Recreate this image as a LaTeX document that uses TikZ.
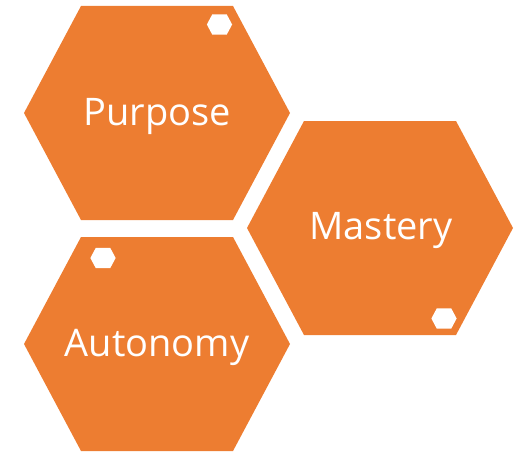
\documentclass[tikz,border=0pt]{standalone}
\usepackage{fontspec}
\setmainfont{Open Sans}
\definecolor{hexorange}{HTML}{ED7D31}
\tikzset{
  hexlabel/.style={text=white, font=\fontsize{38}{40}\selectfont, inner sep=0pt, anchor=base},
}
\begin{document}
\begin{tikzpicture}[x=1pt,y=-1pt] % three hexagons
		\newcommand{\hexW}{133}	% half width, to the side corners
		\newcommand{\hexE}{76}	% half length of top and bottom edge
		\newcommand{\hexH}{107}	% half height
		
		\useasboundingbox (0,0) rectangle (524,452);
		
		% big hexagons
		\fill[hexorange, shift={(157,113)}] (-\hexW,0) -- (-\hexE,-\hexH) -- (\hexE,-\hexH) -- (\hexW,0) -- (\hexE,\hexH) -- (-\hexE,\hexH) -- cycle;	% purpose
		\fill[hexorange, shift={(380,228)}] (-\hexW,0) -- (-\hexE,-\hexH) -- (\hexE,-\hexH) -- (\hexW,0) -- (\hexE,\hexH) -- (-\hexE,\hexH) -- cycle;	% mastery
		\fill[hexorange, shift={(157,344)}] (-\hexW,0) -- (-\hexE,-\hexH) -- (\hexE,-\hexH) -- (\hexW,0) -- (\hexE,\hexH) -- (-\hexE,\hexH) -- cycle;	% autonomy
		
		% small white hexagons
		\fill[white, shift={(219.5,24.5)}, scale=0.095] (-\hexW,0) -- (-\hexE,-\hexH) -- (\hexE,-\hexH) -- (\hexW,0) -- (\hexE,\hexH) -- (-\hexE,\hexH) -- cycle;
		\fill[white, shift={(444,318.5)}, scale=0.095] (-\hexW,0) -- (-\hexE,-\hexH) -- (\hexE,-\hexH) -- (\hexW,0) -- (\hexE,\hexH) -- (-\hexE,\hexH) -- cycle;
		\fill[white, shift={(103,258)}, scale=0.095] (-\hexW,0) -- (-\hexE,-\hexH) -- (\hexE,-\hexH) -- (\hexW,0) -- (\hexE,\hexH) -- (-\hexE,\hexH) -- cycle;
		
		% labels, placed on their baselines
		\node[hexlabel] (purpose) at (157,125) {Purpose};
		\node[hexlabel] (mastery) at (381,239) {Mastery};
		\node[hexlabel] (autonomy) at (157,356) {Autonomy};
\end{tikzpicture}
\end{document}
